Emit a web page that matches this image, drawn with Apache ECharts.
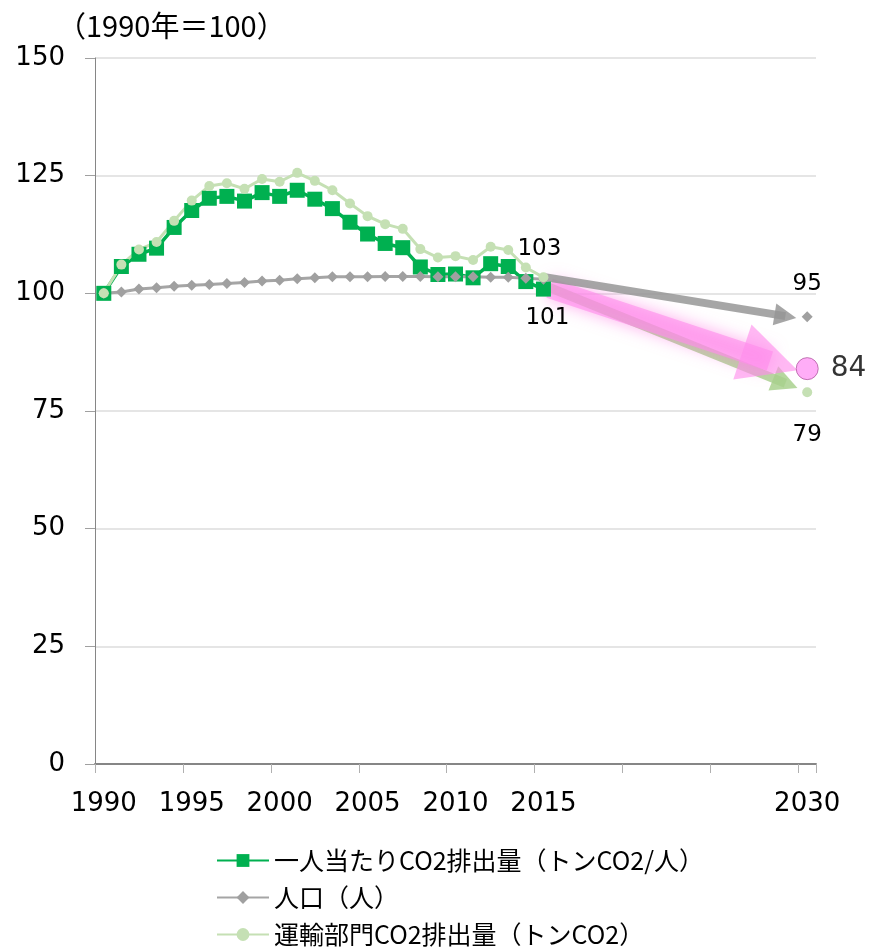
<!DOCTYPE html>
<html>
<head>
<meta charset="UTF-8">
<title>一人当たりCO2排出量</title>
<script src="https://cdn.jsdelivr.net/npm/echarts@6/dist/echarts.min.js"></script>
<style>
html, body { margin: 0; padding: 0; background: #fff; }
#main { width: 874px; height: 950px; }
</style>
</head>
<body>
<div id="main"></div>
<script>
// 年（カテゴリ）
var years = ['1990', '1991', '1992', '1993', '1994', '1995', '1996', '1997', '1998', '1999',
             '2000', '2001', '2002', '2003', '2004', '2005', '2006', '2007', '2008', '2009',
             '2010', '2011', '2012', '2013', '2014', '2015', '2016', '2017', '2018', '2019',
             '2020', '2021', '2022', '2023', '2024', '2025', '2026', '2027', '2028', '2029', '2030'];

// 1990-2015 実績 (1990年=100)
var perCapita = [100, 105.7, 108.3, 109.6, 114.0, 117.6, 120.2, 120.6, 119.6, 121.4,
                 120.6, 121.9, 120.0, 118.0, 115.1, 112.6, 110.6, 109.7, 105.6, 104.0,
                 104.1, 103.3, 106.3, 105.7, 102.5, 100.9];
var population = [100, 100.3, 100.9, 101.2, 101.5, 101.7, 101.9, 102.1, 102.3, 102.6,
                  102.8, 103.1, 103.3, 103.5, 103.5, 103.5, 103.6, 103.6, 103.6, 103.5,
                  103.5, 103.5, 103.4, 103.4, 103.2, 103.0];
var transport = [100, 106.1, 109.3, 110.9, 115.4, 119.7, 122.8, 123.4, 122.2, 124.3,
                 123.7, 125.6, 123.9, 121.9, 119.1, 116.4, 114.7, 113.7, 109.4, 107.6,
                 107.9, 107.1, 109.9, 109.2, 105.5, 103.4];

// 2030年 目標値
var target2030 = { perCapita: 84, population: 95, transport: 79 };

// 矢印 [年インデックス, 値]
var arrowPop = [[25, 103.5], [38.76, 95.15]];
var arrowPerCapita = [[25.35, 101.1], [37.88, 85.6]];
var arrowTransport = [[25.3, 101.3], [38.76, 80.9]];

var numFont = "'DejaVu Sans'";
var jpFont = "'Noto Sans CJK JP'";

function fill(hist, last) {
    var out = hist.slice();
    while (out.length < years.length - 1) out.push(null);
    out.push(last);
    return out;
}

function labeled(arr, idx, pos, dist, offset) {
    arr[idx] = {
        value: arr[idx],
        label: {
            show: true, position: pos, distance: dist, offset: offset || [0, 0],
            fontSize: 23, color: '#000', fontFamily: numFont,
            formatter: function (p) { return Math.round(p.value); }
        }
    };
    return arr;
}

var dPer = fill(perCapita, null);
labeled(dPer, 25, 'bottom', 10, [4, 0]);
var dPop = fill(population, target2030.population);
labeled(dPop, 40, 'top', 16);
var dTra = fill(transport, target2030.transport);
labeled(dTra, 25, 'top', 12, [-4, 0]);
labeled(dTra, 40, 'bottom', 26);

var headPath = 'path://M50,0L100,100L0,100Z';

var myChart = echarts.init(document.getElementById('main'));

var option = {
    animation: false,
    title: {
        text: '（1990年＝100）',
        left: 52,
        top: 6,
        textStyle: { fontSize: 29, fontWeight: 'normal', color: '#000', fontFamily: jpFont }
    },
    grid: { left: 95, right: 58, top: 58, bottom: 186 },
    legend: {
        orient: 'vertical',
        left: 216,
        top: 848,
        padding: 0,
        itemWidth: 52,
        itemHeight: 16,
        itemGap: 12,
        textStyle: { fontSize: 25, color: '#000', fontFamily: jpFont },
        data: ['一人当たりCO2排出量（トンCO2/人）', '人口（人）', '運輸部門CO2排出量（トンCO2）']
    },
    xAxis: [{
        type: 'category',
        data: years,
        boundaryGap: true,
        axisLine: { lineStyle: { color: '#868686', width: 2 } },
        axisTick: {
            show: true, length: 9,
            interval: function (i) { return i % 5 === 0; },
            lineStyle: { color: '#b0b0b0' }
        },
        axisLabel: {
            interval: function (i, v) { return (+v <= 2015 && +v % 5 === 0) || v === '2030'; },
            fontSize: 26, color: '#000', margin: 27, fontFamily: numFont
        },
        splitLine: { show: false }
    }, {
        type: 'value', min: -0.5, max: 40.5, show: false
    }],
    yAxis: {
        type: 'value',
        min: 0, max: 150, interval: 25,
        axisLine: { show: true, onZero: false, lineStyle: { color: '#868686' } },
        axisTick: { show: true, length: 10, lineStyle: { color: '#a0a0a0' } },
        axisLabel: { fontSize: 26, color: '#000', margin: 30, fontFamily: numFont },
        splitLine: { lineStyle: { color: '#dcdcdc', width: 1.5 } }
    },
    series: [{
        name: '一人当たりCO2排出量（トンCO2/人）',
        type: 'line',
        data: dPer,
        symbol: 'rect',
        symbolSize: 15,
        showAllSymbol: true,
        lineStyle: { color: '#00b050', width: 3.5 },
        itemStyle: { color: '#00b050' }
    }, {
        name: '人口（人）',
        type: 'line',
        data: dPop,
        symbol: 'diamond',
        symbolSize: 11,
        showAllSymbol: true,
        lineStyle: { color: '#a5a5a5', width: 3 },
        itemStyle: { color: '#a0a0a0' }
    }, {
        name: '運輸部門CO2排出量（トンCO2）',
        type: 'line',
        data: dTra,
        symbol: 'circle',
        symbolSize: 10,
        showAllSymbol: true,
        lineStyle: { color: '#c5e0b4', width: 3 },
        itemStyle: { color: '#c5e0b4' }
    }, {
        type: 'lines',
        coordinateSystem: 'cartesian2d',
        xAxisIndex: 1,
        silent: true,
        symbol: ['none', headPath],
        symbolSize: [0, 26],
        lineStyle: { color: 'rgba(169,209,142,0.85)', width: 9, opacity: 1 },
        data: [{ coords: arrowTransport }]
    }, {
        type: 'lines',
        coordinateSystem: 'cartesian2d',
        xAxisIndex: 1,
        silent: true,
        symbol: ['none', headPath],
        symbolSize: [0, 58],
        lineStyle: {
            color: 'rgba(255,140,235,0.62)', width: 20, opacity: 1,
            shadowBlur: 16, shadowColor: 'rgba(255,110,225,0.9)'
        },
        data: [{ coords: arrowPerCapita }]
    }, {
        type: 'lines',
        coordinateSystem: 'cartesian2d',
        xAxisIndex: 1,
        silent: true,
        symbol: ['none', headPath],
        symbolSize: [0, 22],
        lineStyle: { color: 'rgba(150,150,150,0.85)', width: 8, opacity: 1 },
        data: [{ coords: arrowPop }]
    }, {
        type: 'scatter',
        data: [['2030', target2030.perCapita]],
        symbolSize: 22,
        itemStyle: { color: '#ff99f5', borderColor: '#b05aa0', borderWidth: 1 },
        label: {
            show: true, position: 'right', distance: 12,
            fontSize: 28, color: '#000', fontFamily: numFont,
            formatter: function (p) { return p.value[1]; }
        },
        z: 5
    }]
};

myChart.setOption(option);
</script>
</body>
</html>
